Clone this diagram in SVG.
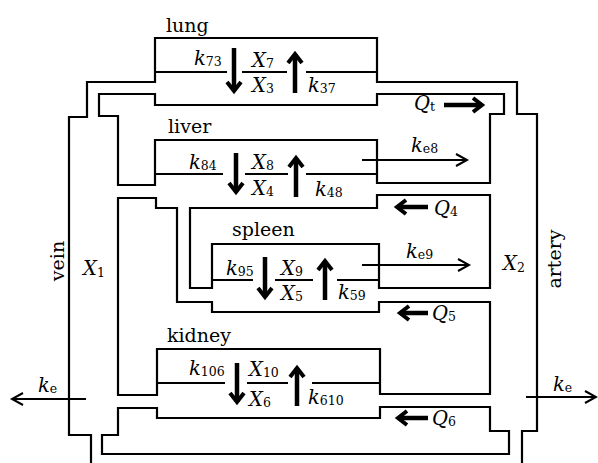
<svg xmlns="http://www.w3.org/2000/svg" width="598" height="463" viewBox="0 0 598 463">
<style>
.w{fill:none;stroke:#000;stroke-width:2.2;stroke-linejoin:miter}
.d{fill:none;stroke:#000;stroke-width:2.2}
.b{fill:none;stroke:#000;stroke-width:4.5;marker-end:url(#hb)}
.t{fill:none;stroke:#000;stroke-width:2;marker-end:url(#ht)}
text{font-family:"DejaVu Serif","Liberation Serif",serif;fill:#000}
.lb{font-size:19px}
.i{font-style:italic;font-size:19.5px}
.s{font-size:12.5px;font-style:normal}
</style>
<defs>
<marker id="hb" markerUnits="userSpaceOnUse" viewBox="-14 -10 18 20" refX="0" refY="0" markerWidth="18" markerHeight="20" orient="auto" overflow="visible">
<path d="M-9,-7 L0,0 L-9,7" fill="none" stroke="#000" stroke-width="4" stroke-linejoin="miter"/>
</marker>
<marker id="ht" markerUnits="userSpaceOnUse" viewBox="-14 -8 16 16" refX="0" refY="0" markerWidth="16" markerHeight="16" orient="auto" overflow="visible">
<path d="M-11,-6 L0,0 L-11,6" fill="none" stroke="#000" stroke-width="2"/>
</marker>
</defs>

<g id="vessels">
<path class="w" d="M91,463 V435 H69 V117 H87 V82 H155 V38 H377 V82 H517 V114 H537 V431 H522 V463"/>
<path class="w" d="M99,116 V94 H155 V105 H377 V94 H504 V114 H490 V183 H377 V140 H155 V185 H118 V116 Z"/>
<path class="w" d="M190,208 H377 V195 H490 V288 H379 V244 H212 V288 H190 Z"/>
<path class="w" d="M379,312 V302 H490 V394 H380 V349 H157 V395 H118 V198 H156 V208 H177 V302 H212 V312 Z"/>
<path class="w" d="M118,408 V435 H102 V454 H509 V431 H490 V407 H380 V418 H157 V408 Z"/>
</g>

<g id="vein">
<text class="lb" transform="translate(64,261) rotate(-90)" text-anchor="middle">vein</text>
<text class="i" x="83" y="275">X<tspan class="s" dy="2">1</tspan></text>
</g>

<g id="artery">
<text class="lb" transform="translate(561,259) rotate(-90)" text-anchor="middle">artery</text>
<text class="i" x="503" y="270">X<tspan class="s" dy="2">2</tspan></text>
</g>

<g id="lung">
<text class="lb" x="166" y="32">lung</text>
<path class="d" d="M155,72 H227 M242,72 H287 M306,72 H377"/>
<text class="i" x="194" y="65">k<tspan class="s" dy="1">73</tspan></text>
<text class="i" x="252" y="67">X<tspan class="s" dy="1">7</tspan></text>
<text class="i" x="252" y="92">X<tspan class="s" dy="1">3</tspan></text>
<text class="i" x="308" y="92">k<tspan class="s" dy="1">37</tspan></text>
</g>

<g id="liver">
<text class="lb" x="168" y="133">liver</text>
<path class="d" d="M155,174 H223 M245,174 H288 M306,174 H377"/>
<text class="i" x="189" y="169">k<tspan class="s" dy="1">84</tspan></text>
<text class="i" x="252" y="169">X<tspan class="s" dy="1">8</tspan></text>
<text class="i" x="252" y="195">X<tspan class="s" dy="1">4</tspan></text>
<text class="i" x="315" y="196">k<tspan class="s" dy="1">48</tspan></text>
<text class="i" x="411" y="152">k<tspan class="s" dy="1">e8</tspan></text>
</g>

<g id="spleen">
<text class="lb" x="232" y="236">spleen</text>
<path class="d" d="M212,280 H253 M275,280 H313 M337,280 H379"/>
<text class="i" x="226" y="275">k<tspan class="s" dy="1">95</tspan></text>
<text class="i" x="281" y="275">X<tspan class="s" dy="1">9</tspan></text>
<text class="i" x="281" y="300">X<tspan class="s" dy="1">5</tspan></text>
<text class="i" x="338" y="299">k<tspan class="s" dy="1">59</tspan></text>
<text class="i" x="406" y="258">k<tspan class="s" dy="1">e9</tspan></text>
</g>

<g id="kidney">
<text class="lb" x="167" y="342">kidney</text>
<path class="d" d="M157,383 H225 M247,383 H288 M312,383 H380"/>
<text class="i" x="189" y="375">k<tspan class="s" dy="1">106</tspan></text>
<text class="i" x="249" y="376">X<tspan class="s" dy="1">10</tspan></text>
<text class="i" x="249" y="406">X<tspan class="s" dy="1">6</tspan></text>
<text class="i" x="308" y="404">k<tspan class="s" dy="1">610</tspan></text>
</g>

<g id="flow-labels">
<text class="i" x="414" y="110">Q<tspan class="s" dy="1">t</tspan></text>
<text class="i" x="434" y="215">Q<tspan class="s" dy="1">4</tspan></text>
<text class="i" x="432" y="320">Q<tspan class="s" dy="1">5</tspan></text>
<text class="i" x="432" y="425">Q<tspan class="s" dy="1">6</tspan></text>
<text class="i" x="38" y="392">k<tspan class="s" dy="1">e</tspan></text>
<text class="i" x="553" y="391">k<tspan class="s" dy="1">e</tspan></text>
</g>

<g id="connectors">
<path class="b" d="M234,48 V91"/>
<path class="b" d="M295,93 V54"/>
<path class="b" d="M236,153 V192"/>
<path class="b" d="M296,197 V158"/>
<path class="b" d="M265,257 V297"/>
<path class="b" d="M325,300 V261"/>
<path class="b" d="M237,363 V402"/>
<path class="b" d="M297,406 V368"/>
<path class="b" d="M444,105 H482"/>
<path class="b" d="M428,207 H397"/>
<path class="b" d="M428,313 H400"/>
<path class="b" d="M428,418 H398"/>
<path class="t" d="M362,160 H467"/>
<path class="t" d="M362,265 H469"/>
<path class="t" d="M86,399 H12"/>
<path class="t" d="M526,397 H596"/>
</g>
</svg>
